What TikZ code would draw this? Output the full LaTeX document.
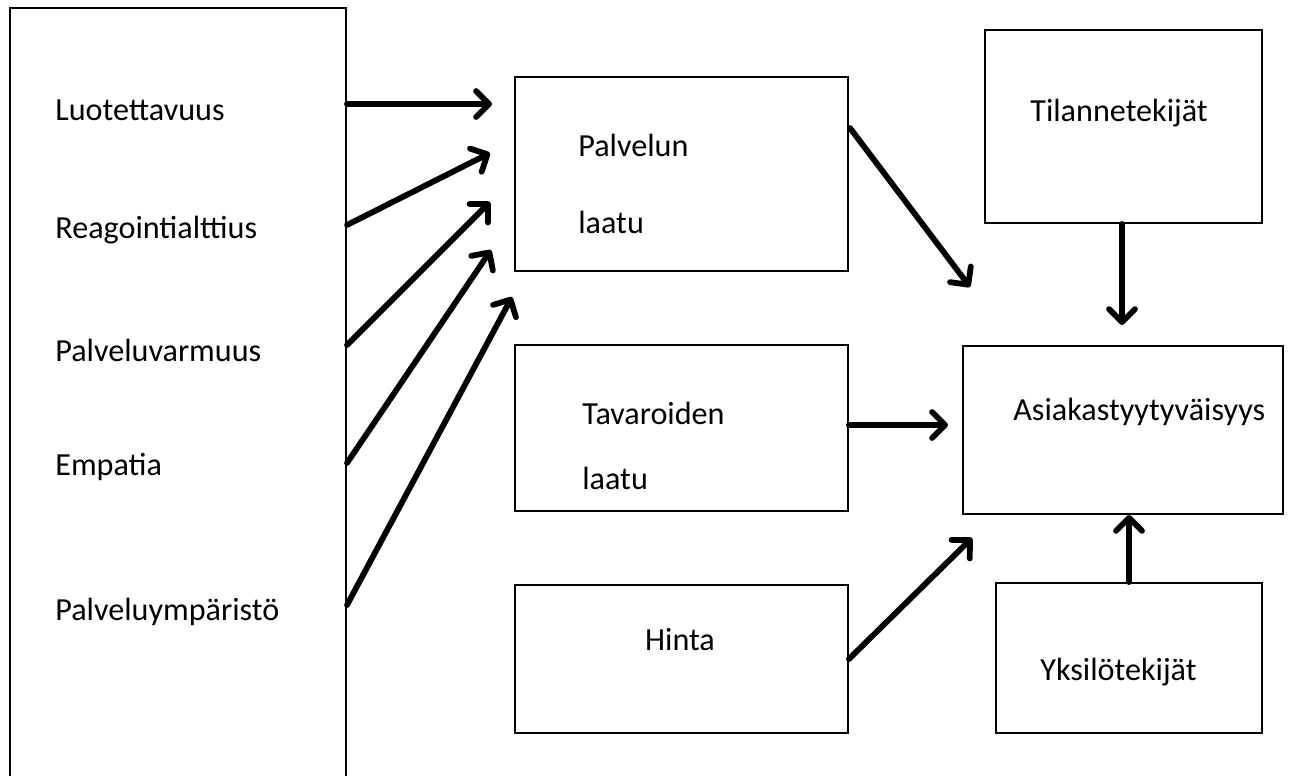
\documentclass[tikz,border=0pt]{standalone}
\usepackage{fontspec}
\setmainfont{Carlito}
\usetikzlibrary{arrows.meta}

\tikzset{
  box/.style={draw, line width=1.1pt, inner sep=0pt},
  lbl/.style={inner sep=0pt, anchor=west, font=\fontsize{18.3}{22}\selectfont},
  arr/.style={line width=3.3pt, line cap=round, -{Straight Barb[length=2.6mm,width=5.2mm,line cap=round,round]}}
}

\begin{document}
\begin{tikzpicture}[x=0.02cm,y=-0.02cm]
\useasboundingbox (0,0) rectangle (1299,775);
\clip (0,0) rectangle (1299,775);
% boxes
\node[box, minimum width=6.72cm, minimum height=15.64cm] (vas) at (178,399) {};
\node[box, minimum width=6.66cm, minimum height=3.88cm] (palv) at (681.5,174) {};
\node[box, minimum width=6.66cm, minimum height=3.32cm] (tav) at (681.5,428) {};
\node[box, minimum width=6.66cm, minimum height=2.96cm] (hinta) at (681.5,659) {};
\node[box, minimum width=5.54cm, minimum height=3.86cm] (tilanne) at (1123.5,126.5) {};
\node[box, minimum width=6.4cm, minimum height=3.36cm] (asiakas) at (1123,430) {};
\node[box, minimum width=5.32cm, minimum height=3.0cm] (yksilo) at (1129,658) {};
% texts
\node[lbl] (luo) at (55,110) {Luotettavuus};
\node[lbl] (rea) at (55,230) {Reagointialttius};
\node[lbl] (pvar) at (55,350) {Palveluvarmuus};
\node[lbl] (emp) at (55,467) {Empatia};
\node[lbl] (pymp) at (55,612) {Palveluympäristö};
\node[lbl] (palv1) at (578,145) {Palvelun};
\node[lbl] (palv2) at (578,222) {laatu};
\node[lbl] (tav1) at (582,413) {Tavaroiden};
\node[lbl] (tav2) at (582,478) {laatu};
\node[lbl, anchor=center] (hin) at (680,640) {Hinta};
\node[lbl] (til) at (1030,113) {Tilannetekijät};
\node[lbl] (asi) at (1013,412) {Asiakastyytyväisyys};
\node[lbl] (yks) at (1040,672) {Yksilötekijät};
% arrow ends
\coordinate (a1) at (347,104);
\coordinate (a2) at (347,225);
\coordinate (a3) at (347,345);
\coordinate (a4) at (347,463);
\coordinate (a5) at (347,605);
\coordinate (p1) at (492,104);
\coordinate (p2) at (490,153);
\coordinate (p3) at (490,202);
\coordinate (p4) at (491,250);
\coordinate (p5) at (512,297);
\coordinate (b1) at (850,128);
\coordinate (q1) at (970,287);
\coordinate (q2) at (1122,325);
\coordinate (q3) at (948,425);
\coordinate (q4) at (972,538);
% arrows
\draw[arr] (a1) -- (p1);
\draw[arr] (a2) -- (p2);
\draw[arr] (a3) -- (p3);
\draw[arr] (a4) -- (p4);
\draw[arr] (a5) -- (p5);
\draw[arr] (b1) -- (q1);
\draw[arr] (tilanne.south -| q2) -- (q2);
\draw[arr] (tav.east |- q3) -- (q3);
\draw[arr] (hinta.east) -- (q4);
\draw[arr] (yksilo.north) -- (asiakas.south -| yksilo.north);
\end{tikzpicture}
\end{document}
